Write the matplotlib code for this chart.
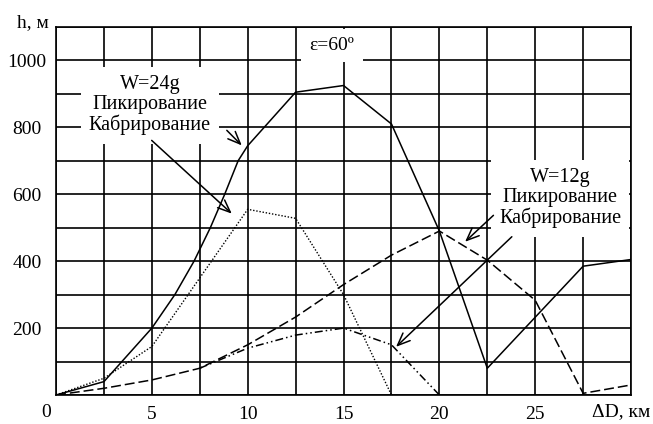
import matplotlib
matplotlib.use("Agg")
import matplotlib.pyplot as plt
import numpy as np

plt.rcParams['font.family'] = ['Liberation Serif', 'DejaVu Serif']

# W=24g, пикирование (solid) and кабрирование (dotted)
d_dive24 = [0, 2.5, 5, 6.2, 7.2, 8.05, 8.8, 9.5, 10, 12.5, 15, 17.5, 20, 22.5, 27.5, 30]
h_dive24 = [0, 40, 200, 300, 400, 500, 600, 700, 745, 905, 925, 810, 490, 80, 385, 405]
d_climb24 = [0, 2.5, 5, 7.5, 10, 12.5, 15, 17.5]
h_climb24 = [0, 50, 145, 350, 555, 528, 300, 0]

# W=12g, пикирование (dashed) and кабрирование (dash-dot-dot)
d_dive12 = [0, 2.5, 5, 7.5, 10, 12.5, 15, 17.5, 20, 22.5, 25, 27.5, 30]
h_dive12 = [0, 20, 45, 80, 150, 233, 330, 418, 490, 403, 283, 5, 30]
d_climb12 = [7.5, 10, 12.5, 15, 17.5, 20]
h_climb12 = [80, 140, 179, 200, 150, 0]

x_labels = ["", "", "5", "", "10", "", "15", "", "20", "", "25", "", ""]
y_labels = ["", "", "200", "", "400", "", "600", "", "800", "", "1000", ""]

fig = plt.figure(figsize=(6.53, 4.24), dpi=100)
ax = fig.add_axes([0.0858, 0.0684, 0.8806, 0.868])

lw = 1.1
ax.plot(d_dive24, h_dive24, color='black', lw=lw, zorder=4)
ax.plot(d_climb24, h_climb24, color='black', lw=1.0, linestyle=(0, (1, 1.3)), zorder=4)
ax.plot(d_dive12, h_dive12, color='black', lw=lw, linestyle=(0, (6.5, 2.6)), zorder=4)
ax.plot(d_climb12, h_climb12, color='black', lw=lw,
        linestyle=(0, (5.2, 2, 1, 2, 1, 2)), zorder=4)

ax.set_xlim(0, 30)
ax.set_ylim(0, 1100)
ax.set_xticks(np.arange(0, 30.1, 2.5))
ax.set_xticklabels(x_labels)
ax.set_yticks(np.arange(0, 1101, 100))
ax.set_yticklabels(y_labels)
ax.tick_params(length=0, labelsize=14)
ax.tick_params(axis='x', pad=8)
ax.tick_params(axis='y', pad=21)
for lab in ax.get_yticklabels():
    lab.set_ha('center')

ax.set_axisbelow(True)
ax.grid(True, color='black', lw=1.2)
for sp in ax.spines.values():
    sp.set_linewidth(1.2)

ax.text(-0.5, -52, "0", fontsize=14, ha='center', va='center', clip_on=False)
ax.text(29.5, -50, "ΔD, км", fontsize=14, ha='center', va='center', clip_on=False)
ax.text(-1.2, 1114, "h, м", fontsize=14, ha='center', va='center', clip_on=False)

ax.text(14.4, 1045, "ε=60º", fontsize=14, ha='center', va='center',
        bbox=dict(facecolor='white', edgecolor='none', pad=6))

ax.text(4.9, 866, "W=24g\nПикирование\nКабрирование", fontsize=14.5,
        ha='center', va='center', linespacing=1.05,
        bbox=dict(facecolor='white', edgecolor='none', pad=6))
ax.text(26.3, 588, "W=12g\nПикирование\nКабрирование", fontsize=14.5,
        ha='center', va='center', linespacing=1.05,
        bbox=dict(facecolor='white', edgecolor='none', pad=6), zorder=5)

arrow = dict(arrowstyle='->,head_length=0.6,head_width=0.25', lw=1.1,
             color='black', shrinkA=0, shrinkB=0, mutation_scale=15)
ax.annotate("", xy=(9.69, 746), xytext=(8.91, 791), arrowprops=arrow, zorder=6)
ax.annotate("", xy=(9.17, 542), xytext=(4.99, 761), arrowprops=arrow, zorder=6)
ax.annotate("", xy=(21.34, 458), xytext=(22.82, 537), arrowprops=arrow, zorder=6)
ax.annotate("", xy=(17.74, 144), xytext=(23.78, 473), arrowprops=arrow, zorder=6)

fig.savefig("out.png", dpi=100)
